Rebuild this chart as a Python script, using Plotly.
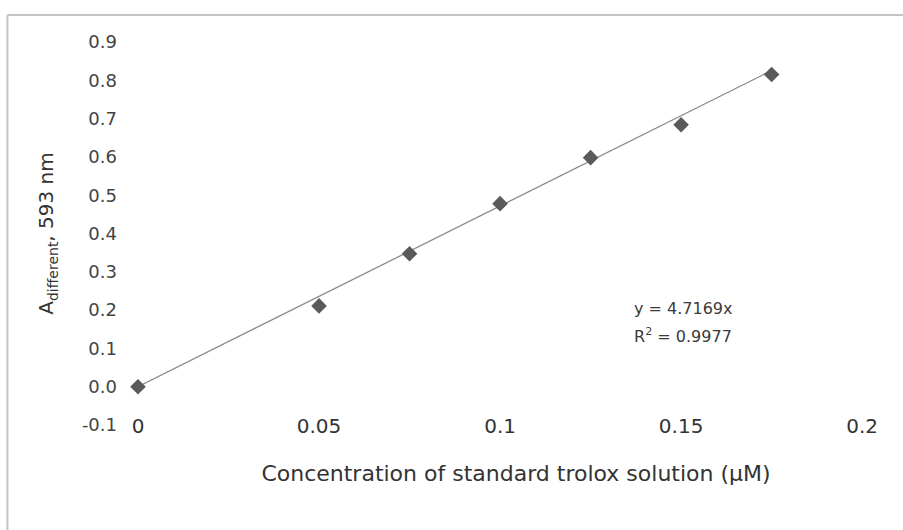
import plotly.graph_objects as go

# Data
conc = [0, 0.05, 0.075, 0.1, 0.125, 0.15, 0.175]
absorb = [0.0, 0.211, 0.347, 0.478, 0.598, 0.684, 0.815]
slope = 4.7169
r2 = 0.9977
x_ticks = [0, 0.05, 0.1, 0.15, 0.2]
x_ticklabels = ["0", "0.05", "0.1", "0.15", "0.2"]
y_ticks = [-0.1, 0.0, 0.1, 0.2, 0.3, 0.4, 0.5, 0.6, 0.7, 0.8, 0.9]
y_ticklabels = ["-0.1", "0.0", "0.1", "0.2", "0.3", "0.4", "0.5", "0.6", "0.7", "0.8", "0.9"]

trend_x = [conc[0], conc[-1]]
trend_y = [slope * v for v in trend_x]

fig = go.Figure()
fig.add_trace(go.Scatter(
    x=trend_x, y=trend_y, mode="lines",
    line=dict(color="#8a8a8a", width=1.3),
    showlegend=False, hoverinfo="skip", cliponaxis=False,
))
fig.add_trace(go.Scatter(
    x=conc, y=absorb, mode="markers",
    marker=dict(symbol="diamond", size=12, color="#5a5a5a",
                line=dict(width=0)),
    showlegend=False, cliponaxis=False,
))

fig.add_annotation(
    x=0.1364, y=0.205, xref="x", yref="y",
    text=f"y = {slope}x",
    showarrow=False, xanchor="left", yanchor="middle", align="left",
    font=dict(family="DejaVu Sans", size=16, color="#3a3a3a"),
)
fig.add_annotation(
    x=0.1364, y=0.135, xref="x", yref="y",
    text=f"R<sup>2</sup> = {r2}",
    showarrow=False, xanchor="left", yanchor="middle", align="left",
    font=dict(family="DejaVu Sans", size=16, color="#3a3a3a"),
)

# scanned-frame lines (top and left)
fig.add_shape(type="line", xref="paper", yref="paper",
              x0=-0.1727, x1=1.06, y0=1.0705, y1=1.0705,
              line=dict(color="#c4c4c4", width=2))
fig.add_shape(type="line", xref="paper", yref="paper",
              x0=-0.1727, x1=-0.1727, y0=1.0705, y1=-0.3,
              line=dict(color="#c4c4c4", width=2))

fig.update_layout(
    width=903, height=530,
    margin=dict(l=138, r=9, t=42, b=105),
    paper_bgcolor="white", plot_bgcolor="white",
    font=dict(family="DejaVu Sans", color="#333333"),
    xaxis=dict(
        range=[0, 0.2088], tickvals=x_ticks, ticktext=x_ticklabels,
        showgrid=False, zeroline=False, showline=False, ticks="",
        tickfont=dict(size=20, color="#333333"),
        ticklabelstandoff=-13,
        title=dict(text="Concentration of standard trolox solution (μM)",
                   font=dict(size=22, color="#333333"), standoff=28),
    ),
    yaxis=dict(
        range=[-0.1, 0.9], tickvals=y_ticks, ticktext=y_ticklabels,
        showgrid=False, zeroline=False, showline=False, ticks="",
        tickfont=dict(size=18, color="#444444"),
        ticklabelstandoff=20,
        title=dict(text="A<sub>different</sub>, 593 nm",
                   font=dict(size=20, color="#333333"), standoff=22),
    ),
)

fig.write_html("out.html")
